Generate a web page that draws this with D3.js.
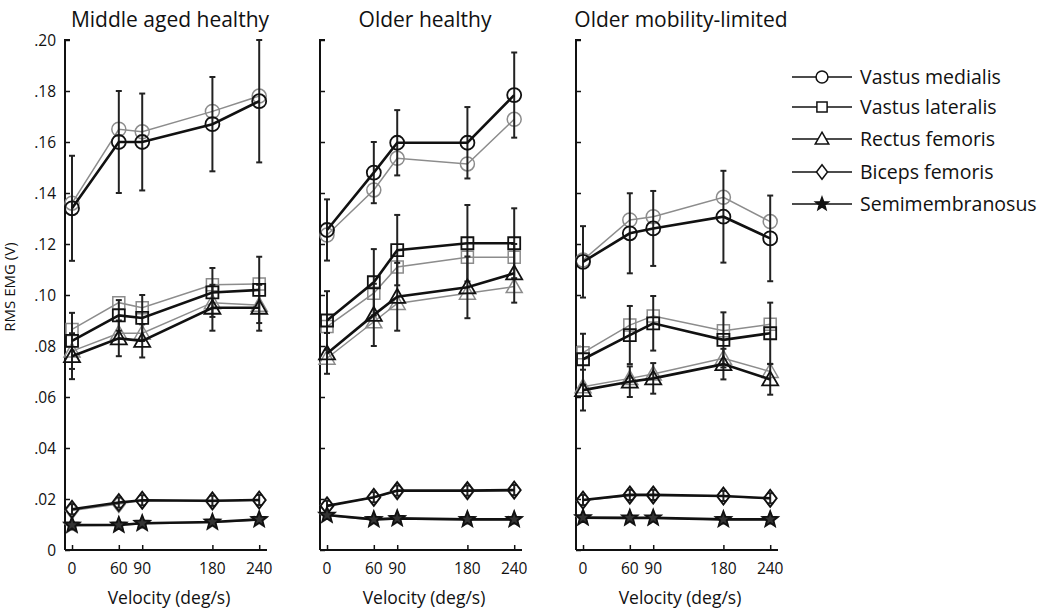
<!DOCTYPE html>
<html><head><meta charset="utf-8">
<script src="https://cdn.jsdelivr.net/npm/d3@7"></script>
<style>body{margin:0;background:#fff}svg{display:block}text{font-family:"Open Sans",sans-serif;fill:#111}</style>
</head><body><svg id="c" width="1050" height="608"></svg>
<script>
const velocities = [0, 60, 90, 180, 240];
const groups = ["Middle aged healthy", "Older healthy", "Older mobility-limited"];
const muscles = ["Vastus medialis", "Vastus lateralis", "Rectus femoris", "Biceps femoris", "Semimembranosus"];
const yTicks = [0, 0.02, 0.04, 0.06, 0.08, 0.10, 0.12, 0.14, 0.16, 0.18, 0.20];
const yTickLabels = ["0", ".02", ".04", ".06", ".08", ".10", ".12", ".14", ".16", ".18", ".20"];

// rows: VM, VL, RF, BF, SM
const middleDark = [
  [0.134, 0.160, 0.160, 0.167, 0.176],
  [0.082, 0.092, 0.091, 0.101, 0.102],
  [0.076, 0.083, 0.082, 0.095, 0.095],
  [0.016, 0.0186, 0.0195, 0.0193, 0.0196],
  [0.0098, 0.0098, 0.0105, 0.011, 0.012]
];
const middleLight = [
  [0.136, 0.165, 0.164, 0.172, 0.178],
  [0.0865, 0.097, 0.095, 0.104, 0.1043],
  [0.078, 0.085, 0.085, 0.097, 0.096],
  [0.0155, 0.018, 0.0195, 0.019, 0.0195],
  [0.0095, 0.0097, 0.0103, 0.0108, 0.0118]
];
const middleErr = [
  [0.0206, 0.020, 0.019, 0.0185, 0.024],
  [0.011, 0.006, 0.009, 0.0096, 0.013],
  [0.009, 0.007, 0.0065, 0.009, 0.009],
  [0.002, 0.002, 0.002, 0.002, 0.002],
  [0.001, 0.001, 0.001, 0.001, 0.001]
];
const olderDark = [
  [0.1255, 0.148, 0.1597, 0.1597, 0.1784],
  [0.090, 0.105, 0.1176, 0.1203, 0.1203],
  [0.0771, 0.0922, 0.0993, 0.103, 0.1085],
  [0.0173, 0.0207, 0.0233, 0.0233, 0.0235],
  [0.0137, 0.012, 0.0124, 0.012, 0.012]
];
const olderLight = [
  [0.1235, 0.1412, 0.1536, 0.1514, 0.1689],
  [0.0876, 0.1007, 0.111, 0.1148, 0.1148],
  [0.0752, 0.0895, 0.0967, 0.1007, 0.1033],
  [0.0175, 0.0205, 0.023, 0.023, 0.0233],
  [0.0135, 0.0118, 0.0122, 0.0119, 0.0119]
];
const olderErr = [
  [0.012, 0.012, 0.0128, 0.014, 0.0167],
  [0.0115, 0.013, 0.0138, 0.015, 0.0137],
  [0.008, 0.0122, 0.0133, 0.0121, 0.0115],
  [0.002, 0.002, 0.002, 0.002, 0.002],
  [0.001, 0.001, 0.001, 0.001, 0.001]
];
const limitedDark = [
  [0.113, 0.1242, 0.1261, 0.1307, 0.1222],
  [0.0748, 0.0843, 0.0889, 0.0824, 0.085],
  [0.0627, 0.066, 0.0673, 0.0729, 0.0669],
  [0.0196, 0.0216, 0.0216, 0.0212, 0.0203],
  [0.0127, 0.0126, 0.0126, 0.012, 0.012]
];
const limitedLight = [
  [0.1137, 0.1294, 0.1307, 0.1383, 0.1288],
  [0.0774, 0.0882, 0.0918, 0.086, 0.0885],
  [0.064, 0.0673, 0.069, 0.0752, 0.070],
  [0.0194, 0.0214, 0.0215, 0.0211, 0.0202],
  [0.0125, 0.0124, 0.0125, 0.0119, 0.0119]
];
const limitedErr = [
  [0.014, 0.0157, 0.0147, 0.018, 0.0168],
  [0.010, 0.0114, 0.0107, 0.0108, 0.012],
  [0.008, 0.006, 0.006, 0.006, 0.006],
  [0.002, 0.002, 0.002, 0.002, 0.002],
  [0.001, 0.001, 0.001, 0.001, 0.001]
];
const darkSets = [middleDark, olderDark, limitedDark];
const lightSets = [middleLight, olderLight, limitedLight];
const errSets = [middleErr, olderErr, limitedErr];

const svg = d3.select("#c");
const panelLeft = [65, 320, 576];
const panelW = 202;
const plotTop = 40, plotBottom = 550;
const y = d3.scaleLinear().domain([0, 0.20]).range([plotBottom, plotTop]);

function markerPath(k, s) {
  if (k === 0) { const r = 7*s; return `M${-r},0A${r},${r} 0 1,0 ${r},0A${r},${r} 0 1,0 ${-r},0Z`; }
  if (k === 1) { const h = 6*s; return `M${-h},${-h}H${h}V${h}H${-h}Z`; }
  if (k === 2) { const w = 8*s, h = 7*s; return `M0,${-h-1*s}L${w},${h-1*s}L${-w},${h-1*s}Z`; }
  if (k === 3) { const w = 6.5*s, h = 8.5*s; return `M0,${-h}L${w},0L0,${h}L${-w},0Z`; }
  const R = 8*s, r = 3.4*s; let p = "";
  for (let i = 0; i < 10; i++) {
    const a = -Math.PI/2 + i*Math.PI/5, rr = i % 2 ? r : R;
    p += (i ? "L" : "M") + (rr*Math.cos(a)).toFixed(2) + "," + (rr*Math.sin(a)).toFixed(2);
  }
  return p + "Z";
}

groups.forEach((g, gi) => {
  const x0 = panelLeft[gi];
  const x = d3.scaleLinear().domain([-9, 250]).range([x0, x0 + panelW]);
  const pg = svg.append("g");
  pg.append("text").attr("x", x0 + panelW/2 + 4).attr("y", 27).attr("text-anchor", "middle")
    .style("font-size", "21px").text(g);
  const yAxis = d3.axisRight(y).tickValues(yTicks).tickSize(5).tickFormat("");
  const ya = pg.append("g").attr("transform", `translate(${x0},0)`).call(yAxis);
  ya.select(".domain").attr("d", `M5,${plotTop}H0V${plotBottom}`).attr("stroke", "#111").attr("stroke-width", 2);
  ya.selectAll(".tick line").attr("stroke", "#111").attr("stroke-width", 1.5);
  if (gi === 0) {
    pg.selectAll(".ylab").data(yTicks).join("text").attr("class", "ylab")
      .attr("x", x0 - 9).attr("y", d => y(d)).attr("dy", "0.36em").attr("text-anchor", "end")
      .style("font-size", "15.5px").text((d, i) => yTickLabels[i]);
  }
  const xAxis = d3.axisTop(x).tickValues(velocities).tickSize(5).tickFormat("");
  const xa = pg.append("g").attr("transform", `translate(0,${plotBottom})`).call(xAxis);
  xa.select(".domain").attr("d", `M${x0},0H${x0 + panelW}`).attr("stroke", "#111").attr("stroke-width", 2);
  xa.selectAll(".tick line").attr("stroke", "#111").attr("stroke-width", 1.5);
  pg.selectAll(".xlab").data(velocities).join("text").attr("class", "xlab")
    .attr("x", d => x(d)).attr("y", 574).attr("text-anchor", "middle")
    .style("font-size", "15.5px").text(d => d);
  pg.append("text").attr("x", x0 + panelW/2 + 3).attr("y", 604).attr("text-anchor", "middle")
    .style("font-size", "17.5px").text("Velocity (deg/s)");

  const line = d3.line().x((d, i) => x(velocities[i])).y(d => y(d));
  lightSets[gi].forEach((vals, k) => {
    pg.append("path").attr("d", line(vals)).attr("fill", "none").attr("stroke", "#8c8c8c").attr("stroke-width", 1.5);
    pg.selectAll(null).data(vals).join("path")
      .attr("transform", (d, i) => `translate(${x(velocities[i])},${y(d)})`)
      .attr("d", markerPath(k, 1)).attr("fill", "none").attr("stroke", "#8c8c8c").attr("stroke-width", 1.5);
  });
  darkSets[gi].forEach((vals, k) => {
    const errs = errSets[gi][k];
    const eb = pg.selectAll(null).data(vals).join("g");
    eb.append("line").attr("x1", (d, i) => x(velocities[i])).attr("x2", (d, i) => x(velocities[i]))
      .attr("y1", (d, i) => y(d + errs[i])).attr("y2", (d, i) => y(d - errs[i]))
      .attr("stroke", "#222").attr("stroke-width", 2);
    [1, -1].forEach(sg => {
      eb.append("line").attr("x1", (d, i) => x(velocities[i]) - 3).attr("x2", (d, i) => x(velocities[i]) + 3)
        .attr("y1", (d, i) => y(d + sg*errs[i])).attr("y2", (d, i) => y(d + sg*errs[i]))
        .attr("stroke", "#222").attr("stroke-width", 2);
    });
  });
  darkSets[gi].forEach((vals, k) => {
    pg.append("path").attr("d", line(vals)).attr("fill", "none").attr("stroke", "#111").attr("stroke-width", 2.6);
    pg.selectAll(null).data(vals).join("path")
      .attr("transform", (d, i) => `translate(${x(velocities[i])},${y(d)})`)
      .attr("d", markerPath(k, 1)).attr("fill", k === 4 ? "#333" : "none").attr("stroke", "#111").attr("stroke-width", 1.8);
  });
});

svg.append("text").attr("transform", "translate(15,287) rotate(-90)").attr("text-anchor", "middle")
  .style("font-size", "15px").text("RMS EMG (V)");

const legY = [77, 107, 139, 172, 204];
const lg = svg.append("g");
muscles.forEach((m, k) => {
  lg.append("line").attr("x1", 792).attr("x2", 852).attr("y1", legY[k]).attr("y2", legY[k])
    .attr("stroke", "#111").attr("stroke-width", 1.6);
  lg.append("path").attr("transform", `translate(822,${legY[k]})`).attr("d", markerPath(k, 0.85))
    .attr("fill", k === 4 ? "#111" : "#fff").attr("stroke", "#111").attr("stroke-width", 1.5);
  lg.append("text").attr("x", 860).attr("y", legY[k]).attr("dy", "0.35em").style("font-size", "19.5px").text(m);
});
</script></body></html>
